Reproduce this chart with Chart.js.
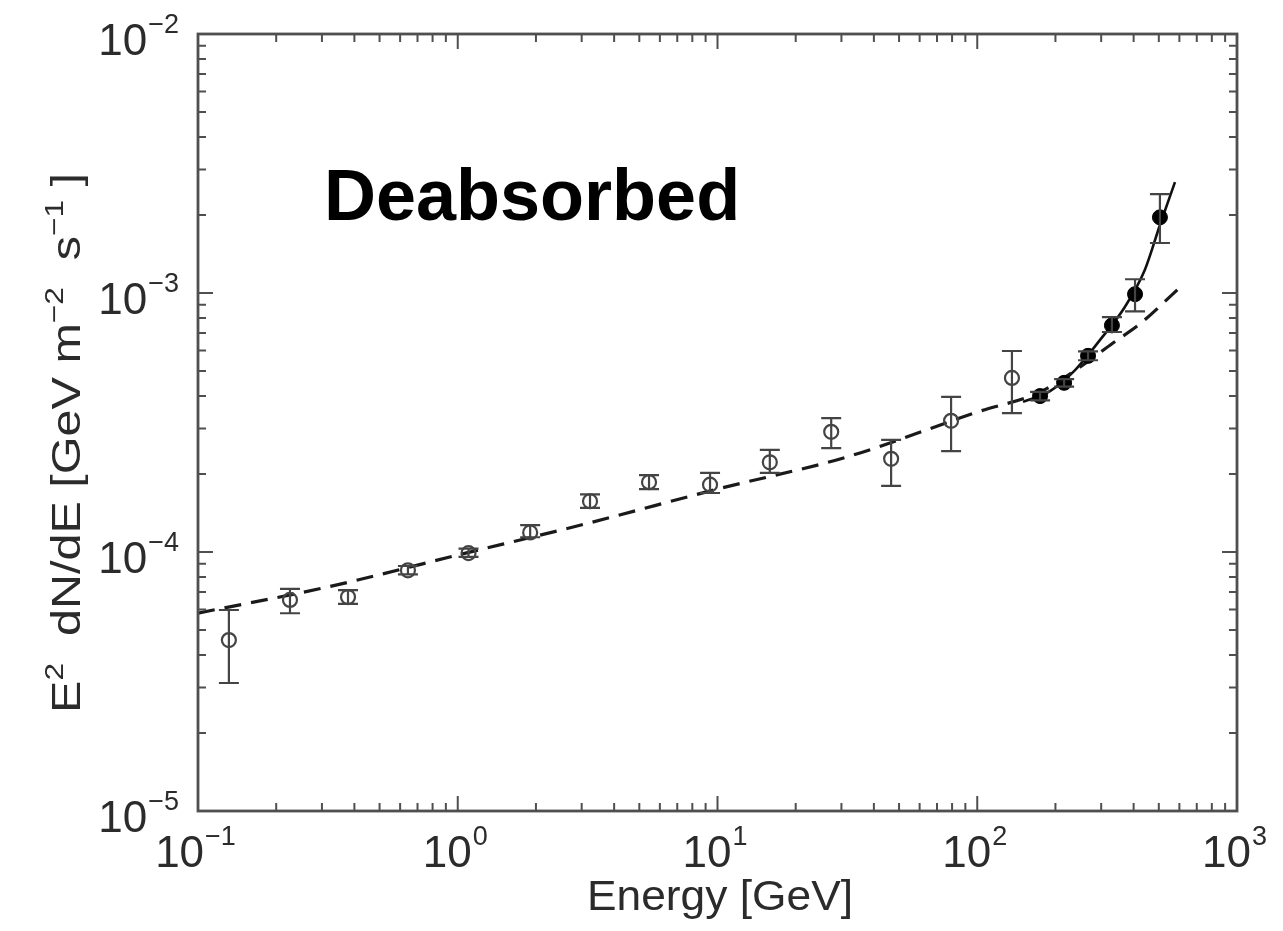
<!DOCTYPE html>
<html>
<head>
<meta charset="utf-8">
<script src="https://cdn.jsdelivr.net/npm/chart.js@4/dist/chart.umd.min.js"></script>
<style>
  html, body { margin: 0; padding: 0; background: #fff; }
  canvas { display: block; }
</style>
</head>
<body>
<canvas id="spectrum" width="1283" height="931"></canvas>
<script>
// Open circles (low energy), E in GeV, E^2 dN/dE in GeV m^-2 s^-1
const openE  = [0.1315, 0.226, 0.378, 0.643, 1.10, 1.90, 3.23, 5.45, 9.36, 15.9, 27.4, 46.6, 79.3, 136];
const openF  = [4.57e-5, 6.53e-5, 6.7e-5, 8.5e-5, 9.9e-5, 1.19e-4, 1.57e-4, 1.86e-4, 1.82e-4, 2.22e-4, 2.91e-4, 2.29e-4, 3.21e-4, 4.70e-4];
const openLo = [3.12e-5, 5.8e-5, 6.3e-5, 8.2e-5, 9.57e-5, 1.14e-4, 1.48e-4, 1.75e-4, 1.69e-4, 2.02e-4, 2.52e-4, 1.80e-4, 2.45e-4, 3.44e-4];
const openHi = [5.97e-5, 7.2e-5, 7.13e-5, 8.83e-5, 1.03e-4, 1.27e-4, 1.67e-4, 1.98e-4, 2.02e-4, 2.48e-4, 3.29e-4, 2.71e-4, 3.97e-4, 5.97e-4];

// Filled circles (high energy)
const fillE  = [174.5, 216, 267, 330, 405, 505];
const fillF  = [4.0e-4, 4.5e-4, 5.72e-4, 7.5e-4, 9.9e-4, 1.96e-3];
const fillLo = [3.85e-4, 4.35e-4, 5.5e-4, 7.07e-4, 8.5e-4, 1.56e-3];
const fillHi = [4.15e-4, 4.65e-4, 5.95e-4, 8.07e-4, 1.13e-3, 2.41e-3];

// Dashed fit
const dashE = [0.1, 0.316, 1, 3.16, 10, 31.6, 100, 174.5, 249, 333, 423, 590];
const dashF = [5.81e-5, 7.33e-5, 9.73e-5, 1.29e-4, 1.75e-4, 2.33e-4, 3.47e-4, 4.15e-4, 5.18e-4, 6.41e-4, 7.6e-4, 1.03e-3];

// Solid fit
const solidE = [150, 190.6, 238, 297, 370, 442, 505, 577];
const solidF = [3.80e-4, 4.18e-4, 5.04e-4, 6.59e-4, 8.83e-4, 1.23e-3, 1.83e-3, 2.68e-3];

// Axis decades
const xDecades = [-1, 0, 1, 2, 3];
const yDecades = [-5, -4, -3, -2];

const FONT = '"Liberation Sans", Arial, Helvetica, sans-serif';
const INK = '#2b2b2b';
const FRAME = '#4f4f4f';

const toXY = (xs, ys) => xs.map((x, i) => ({ x: x, y: ys[i] }));

// Draw a "10^k" label; align: 'center' or 'right'
function powLabel(ctx, k, x, y, align) {
  const base = '10', exp = (k < 0 ? '\u2212' : '') + Math.abs(k);
  ctx.font = '44px ' + FONT;
  const wb = ctx.measureText(base).width;
  ctx.font = '27px ' + FONT;
  const we = ctx.measureText(exp).width;
  let x0 = align === 'right' ? x - wb - we : x - (wb + we) / 2 - 3;
  ctx.textAlign = 'left';
  ctx.textBaseline = 'alphabetic';
  ctx.font = '44px ' + FONT;
  ctx.fillText(base, x0, y);
  ctx.font = '27px ' + FONT;
  ctx.fillText(exp, x0 + wb + 1, y - 22);
}

// Draw a run of [text, size, raise] pieces starting at x
function richText(ctx, parts, x, y, dry) {
  let cx = x;
  parts.forEach(p => {
    ctx.font = p[1] + 'px ' + FONT;
    if (!dry) ctx.fillText(p[0], cx, y - p[2]);
    cx += ctx.measureText(p[0]).width;
  });
  return cx - x;
}

const framePlugin = {
  id: 'frame',
  afterDatasetsDraw(chart) {
    const ctx = chart.ctx;
    const xs = chart.scales.x, ys = chart.scales.y;
    const a = chart.chartArea;

    // error bars
    ctx.save();
    ctx.strokeStyle = '#444';
    ctx.lineWidth = 2.2;
    const bars = (E, lo, hi) => E.forEach((e, i) => {
      const px = xs.getPixelForValue(e);
      const y1 = ys.getPixelForValue(lo[i]), y2 = ys.getPixelForValue(hi[i]);
      ctx.beginPath();
      ctx.moveTo(px, y1); ctx.lineTo(px, y2);
      ctx.moveTo(px - 10, y1); ctx.lineTo(px + 10, y1);
      ctx.moveTo(px - 10, y2); ctx.lineTo(px + 10, y2);
      ctx.stroke();
    });
    bars(openE, openLo, openHi);
    bars(fillE, fillLo, fillHi);
    ctx.restore();

    // frame and inward ticks on all four sides
    ctx.save();
    ctx.strokeStyle = FRAME;
    ctx.lineWidth = 2;
    ctx.beginPath();
    for (let d = -1; d < 3; d++) {
      for (let m = 1; m <= 10; m++) {
        const px = xs.getPixelForValue(m * Math.pow(10, d));
        const len = (m === 1 || m === 10) ? 15 : 8;
        ctx.moveTo(px, a.bottom); ctx.lineTo(px, a.bottom - len);
        ctx.moveTo(px, a.top); ctx.lineTo(px, a.top + len);
      }
    }
    for (let d = -5; d < -2; d++) {
      for (let m = 1; m <= 10; m++) {
        const py = ys.getPixelForValue(m * Math.pow(10, d));
        const len = (m === 1 || m === 10) ? 15 : 8;
        ctx.moveTo(a.left, py); ctx.lineTo(a.left + len, py);
        ctx.moveTo(a.right, py); ctx.lineTo(a.right - len, py);
      }
    }
    ctx.stroke();
    ctx.lineWidth = 2.8;
    ctx.strokeRect(a.left, a.top, a.right - a.left, a.bottom - a.top);
    ctx.restore();

    // tick labels
    ctx.save();
    ctx.fillStyle = INK;
    xDecades.forEach(k => powLabel(ctx, k, xs.getPixelForValue(Math.pow(10, k)), a.bottom + 56, 'center'));
    yDecades.forEach(k => powLabel(ctx, k, a.left - 20, ys.getPixelForValue(Math.pow(10, k)) + 21, 'right'));

    // x title
    ctx.font = '42px ' + FONT;
    ctx.textAlign = 'left';
    const tw = ctx.measureText('Energy [GeV]').width;
    ctx.save();
    ctx.translate(720, 910);
    ctx.scale(266 / tw, 1);
    ctx.fillText('Energy [GeV]', -tw / 2, 0);
    ctx.restore();

    // y title, rotated and stretched along its length
    const yParts = [
      ['E', 40, 0], ['2', 26, 17], ['  dN/dE [GeV m', 40, 0],
      ['\u22122', 26, 17], ['  s', 40, 0], ['\u22121', 26, 17], [' ]', 40, 0]
    ];
    const w = richText(ctx, yParts, 0, 0, true);
    ctx.translate(80, 443);
    ctx.rotate(-Math.PI / 2);
    ctx.scale(540 / w, 1);
    richText(ctx, yParts, -w / 2, 0, false);
    ctx.restore();

    // panel title
    ctx.save();
    ctx.fillStyle = '#000';
    ctx.font = 'bold 72px ' + FONT;
    ctx.textAlign = 'left';
    ctx.fillText('Deabsorbed', 324, 220);
    ctx.restore();
  }
};

new Chart(document.getElementById('spectrum'), {
  type: 'scatter',
  data: {
    datasets: [
      {
        data: toXY(openE, openF),
        pointStyle: 'circle',
        pointRadius: 7,
        pointBorderWidth: 2.2,
        pointBorderColor: '#444',
        pointBackgroundColor: 'rgba(0,0,0,0)',
        order: 0
      },
      {
        data: toXY(fillE, fillF),
        pointStyle: 'circle',
        pointRadius: 7.5,
        pointBorderWidth: 1,
        pointBorderColor: '#000',
        pointBackgroundColor: '#000',
        order: 0
      },
      {
        data: toXY(dashE, dashF),
        showLine: true,
        pointRadius: 0,
        borderColor: '#1a1a1a',
        borderWidth: 3.2,
        borderDash: [17, 10],
        cubicInterpolationMode: 'monotone',
        order: 5
      },
      {
        data: toXY(solidE, solidF),
        showLine: true,
        pointRadius: 0,
        borderColor: '#111',
        borderWidth: 2.6,
        cubicInterpolationMode: 'monotone',
        order: 5
      }
    ]
  },
  options: {
    responsive: false,
    animation: false,
    layout: { padding: { left: 198, top: 34, right: 46, bottom: 120 } },
    plugins: { legend: { display: false }, tooltip: { enabled: false } },
    scales: {
      x: { type: 'logarithmic', min: 0.1, max: 1000, display: false },
      y: { type: 'logarithmic', min: 1e-5, max: 1e-2, display: false }
    }
  },
  plugins: [framePlugin]
});
</script>
</body>
</html>
